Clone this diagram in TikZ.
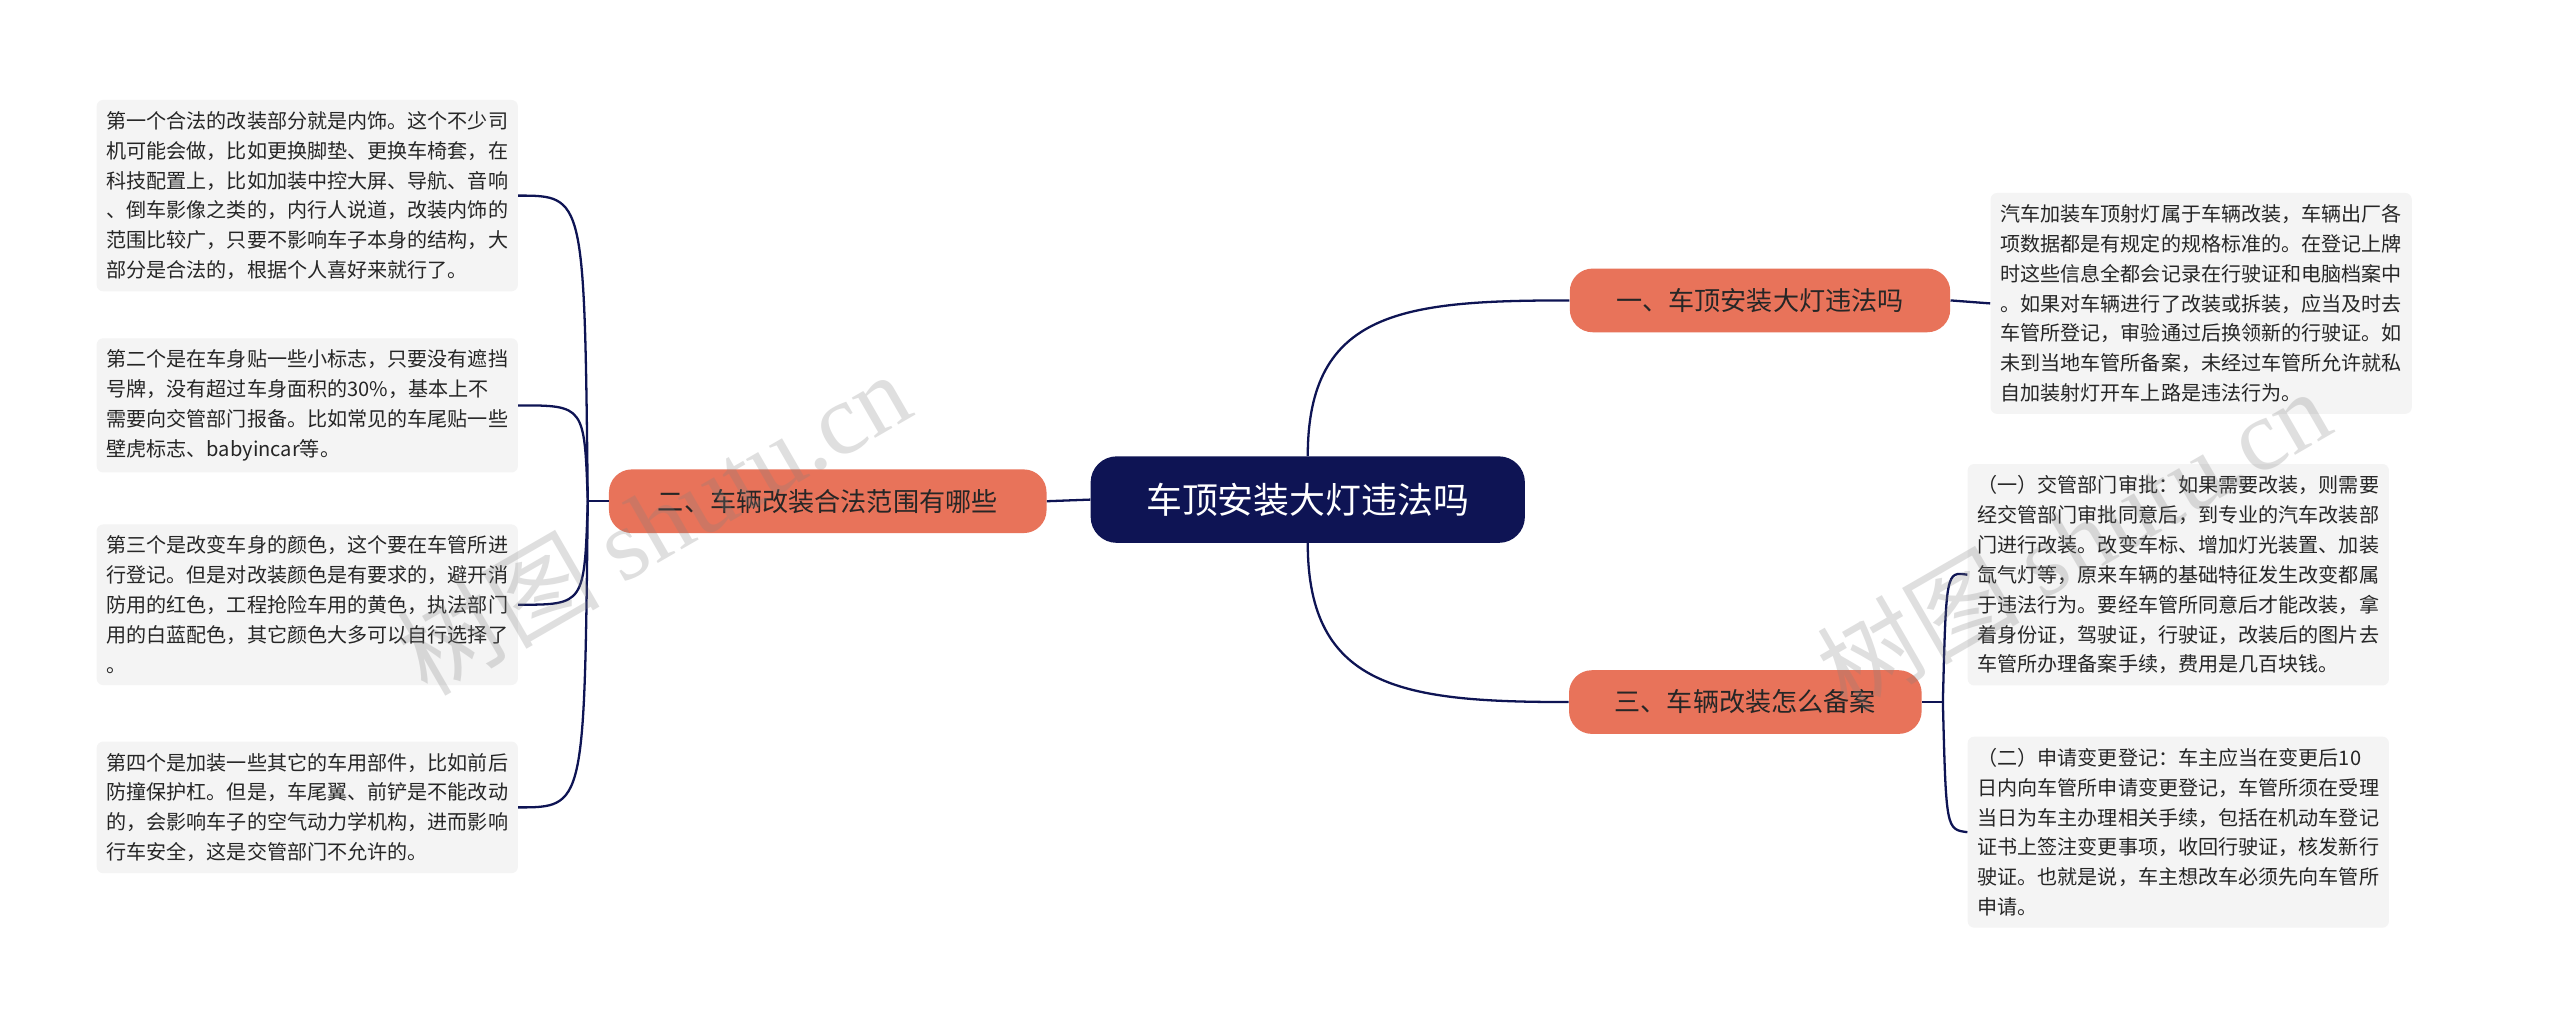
\documentclass[tikz,border=0pt]{standalone}
\usepackage{fontspec}
\setmainfont{Noto Sans CJK SC}
\newfontfamily\wmserif{Liberation Serif}
\definecolor{navy}{HTML}{0E1454}
\definecolor{salmon}{HTML}{E8735A}
\definecolor{boxbg}{HTML}{F4F4F4}
\begin{document}
\begin{tikzpicture}[x=1pt,y=-1pt,
  txt/.style={anchor=north west,fill=boxbg,rounded corners=4pt,inner xsep=6pt,inner ysep=7pt,align=left,font=\fontsize{12.3}{18.3}\selectfont,text=black!85},
  branch/.style={fill=salmon,rounded corners=14pt,minimum height=39pt,inner xsep=12pt,font=\fontsize{16}{18}\selectfont,text=black!85},
  conn/.style={draw=navy,line width=1.4pt},
  wm/.style={text=gray,text opacity=0.25,font=\fontsize{62}{62}\selectfont,rotate=30}]
\useasboundingbox (0,0) rectangle (1568,627);
\fill[white] (0,0) rectangle (1568,627);

\node[fill=navy,rounded corners=16pt,minimum width=266pt,minimum height=53pt,text=white,font=\fontsize{22}{24}\selectfont] (c) at (801,306) {车顶安装大灯违法吗};
\node[branch,minimum width=233pt] (b1) at (1078,184) {一、车顶安装大灯违法吗};
\node[branch,minimum width=216pt] (b3) at (1069,430) {三、车辆改装怎么备案};
\node[branch,minimum width=268pt] (b2) at (507,307) {二、车辆改装合法范围有哪些};

\node[txt] (r1) at (1219,118) {汽车加装车顶射灯属于车辆改装，车辆出厂各\\项数据都是有规定的规格标准的。在登记上牌\\时这些信息全都会记录在行驶证和电脑档案中\\。如果对车辆进行了改装或拆装，应当及时去\\车管所登记，审验通过后换领新的行驶证。如\\未到当地车管所备案，未经过车管所允许就私\\自加装射灯开车上路是违法行为。};
\node[txt] (r2) at (1205,284) {（一）交管部门审批：如果需要改装，则需要\\经交管部门审批同意后，到专业的汽车改装部\\门进行改装。改变车标、增加灯光装置、加装\\氙气灯等，原来车辆的基础特征发生改变都属\\于违法行为。要经车管所同意后才能改装，拿\\着身份证，驾驶证，行驶证，改装后的图片去\\车管所办理备案手续，费用是几百块钱。};
\node[txt] (r3) at (1205,451) {（二）申请变更登记：车主应当在变更后10\\日内向车管所申请变更登记，车管所须在受理\\当日为车主办理相关手续，包括在机动车登记\\证书上签注变更事项，收回行驶证，核发新行\\驶证。也就是说，车主想改车必须先向车管所\\申请。};

\node[txt] (l1) at (59,61) {第一个合法的改装部分就是内饰。这个不少司\\机可能会做，比如更换脚垫、更换车椅套，在\\科技配置上，比如加装中控大屏、导航、音响\\、倒车影像之类的，内行人说道，改装内饰的\\范围比较广，只要不影响车子本身的结构，大\\部分是合法的，根据个人喜好来就行了。};
\node[txt] (l2) at (59,207) {第二个是在车身贴一些小标志，只要没有遮挡\\号牌，没有超过车身面积的30\%，基本上不\\需要向交管部门报备。比如常见的车尾贴一些\\壁虎标志、babyincar等。};
\node[txt] (l3) at (59,321) {第三个是改变车身的颜色，这个要在车管所进\\行登记。但是对改装颜色是有要求的，避开消\\防用的红色，工程抢险车用的黄色，执法部门\\用的白蓝配色，其它颜色大多可以自行选择了\\。};
\node[txt] (l4) at (59,454) {第四个是加装一些其它的车用部件，比如前后\\防撞保护杠。但是，车尾翼、前铲是不能改动\\的，会影响车子的空气动力学机构，进而影响\\行车安全，这是交管部门不允许的。};

\draw[conn] (c.north) .. controls (801,190) and (860,184) .. (b1.west);
\draw[conn] (c.south) .. controls (801,422) and (860,430) .. (b3.west);
\draw[conn] (c.west) -- (b2.east);
\draw[conn] (b1.east) -- (r1.west);

\coordinate (j3) at (1190,430);
\draw[conn] (b3.east) -- (j3);
\draw[conn] (j3) .. controls (1192,350) and (1192,350) .. (r2.west);
\draw[conn] (j3) .. controls (1192,508) and (1192,508) .. (r3.west);

\coordinate (j2) at (360,307);
\draw[conn] (b2.west) -- (j2);
\foreach \t in {l1,l2,l3,l4}{
  \draw[conn] (j2) .. controls (358,307 |- \t.east) and (358,307 |- \t.east) .. (\t.east);
}

\node[wm] (w1) at (400,320) {树图 \wmserif shutu.cn};
\node[wm] (w2) at (1270,330) {树图 \wmserif shutu.cn};
\end{tikzpicture}
\end{document}
